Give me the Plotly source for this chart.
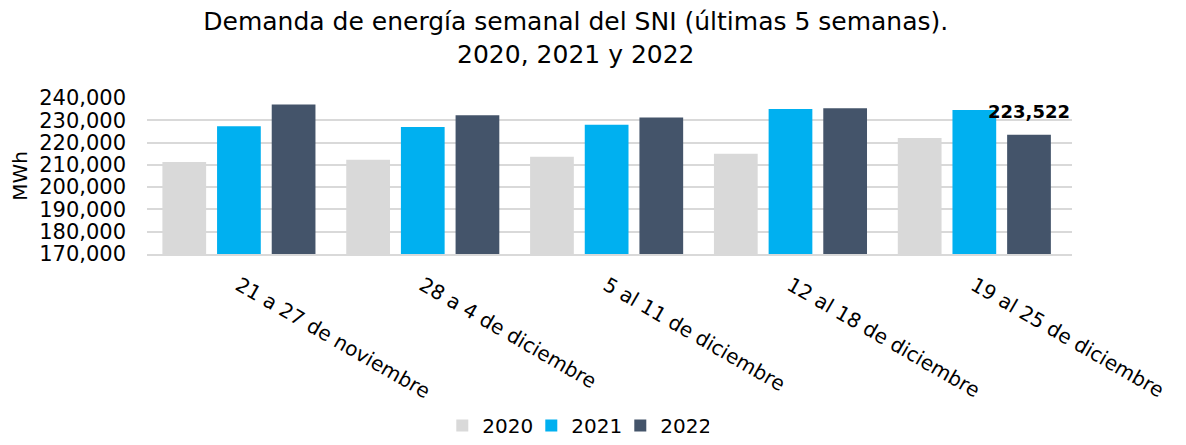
import plotly.graph_objects as go

categories = ["21 a 27 de noviembre", "28 a 4 de diciembre", "5 al 11 de diciembre",
              "12 al 18 de diciembre", "19 al 25 de diciembre"]
years = ["2020", "2021", "2022"]
v2020 = [211300, 212300, 213650, 215000, 222050]
v2021 = [227300, 227000, 228050, 235100, 234650]
v2022 = [237100, 232250, 231200, 235400, 223522]
colors = ["#D9D9D9", "#00B0F0", "#44546A"]
series = [v2020, v2021, v2022]

FONT = "DejaVu Sans"
BARGAP = 0.108

fig = go.Figure()
for name, vals, col in zip(years, series, colors):
    fig.add_trace(go.Bar(
        x=categories, y=vals, name=name, marker_color=col,
        marker_line_width=0, hoverinfo="skip",
    ))

# data label above last 2022 bar (third bar of the last group)
last_idx = len(categories) - 1
offset = (1 - BARGAP) / len(series)
fig.add_annotation(x=last_idx + offset, y=v2022[-1], xref="x", yref="y",
                   text=f"<b>{v2022[-1]:,}</b>", showarrow=False,
                   yanchor="bottom", yshift=11,
                   font=dict(family=FONT, size=18, color="#000000"))

fig.update_layout(
    width=1178, height=437,
    margin=dict(l=139, r=114, t=90, b=191, autoexpand=False),
    paper_bgcolor="white", plot_bgcolor="white",
    barmode="group", bargap=BARGAP, bargroupgap=0.2,
    font=dict(family=FONT, size=20, color="#000000"),
    title=dict(text="Demanda de energía semanal del SNI (últimas 5 semanas).<br>2020, 2021 y 2022",
               x=0.482, xref="container", xanchor="center",
               y=0.949, yref="container", yanchor="top",
               font=dict(family=FONT, size=25, color="#000000")),
    legend=dict(orientation="h", x=0.482, xanchor="center", xref="container",
                y=0.0, yanchor="bottom", yref="container",
                font=dict(family=FONT, size=20), itemwidth=30,
                entrywidth=44, entrywidthmode="pixels",
                traceorder="normal"),
)
fig.update_yaxes(range=[170000, 240000], dtick=10000, tickformat=",",
                 showgrid=True, gridcolor="#D9D9D9", gridwidth=2,
                 zeroline=False, showline=False, ticklabelstandoff=20,
                 automargin=False,
                 title=dict(text="MWh", font=dict(family=FONT, size=20), standoff=8),
                 tickfont=dict(family=FONT, size=21))
fig.update_xaxes(tickangle=30, showline=True, linecolor="#D9D9D9", linewidth=2,
                 automargin=False,
                 ticklabelstandoff=10, tickfont=dict(family=FONT, size=20))

fig.write_html("out.html")
